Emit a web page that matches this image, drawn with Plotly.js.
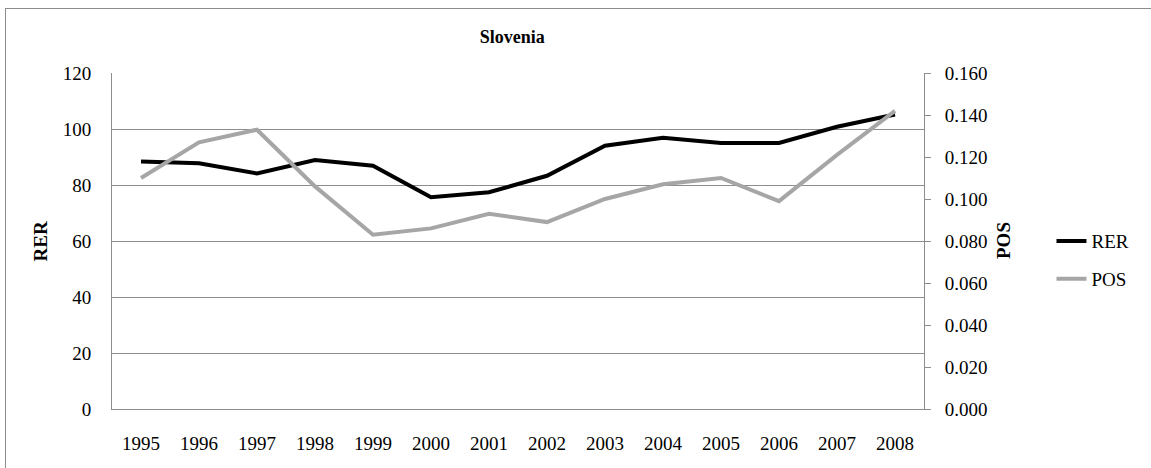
<!DOCTYPE html>
<html>
<head>
<meta charset="utf-8">
<script src="https://cdn.plot.ly/plotly-3.0.1.min.js"></script>
<style>
  html, body { margin: 0; padding: 0; background: #fff; overflow: hidden; }
  #frame { position: absolute; left: 5px; top: 8px; width: 1200px; height: 500px; border-left: 1px solid #8c8c8c; border-top: 1px solid #8c8c8c; pointer-events: none; }
  #chart { position: absolute; left: 0; top: 0; width: 1151px; height: 468px; }
</style>
</head>
<body>
<div id="chart"></div>
<div id="frame"></div>
<script>
const years = ['1995','1996','1997','1998','1999','2000','2001','2002','2003','2004','2005','2006','2007','2008'];
const rer = [88.4, 87.8, 84.1, 88.9, 86.9, 75.6, 77.4, 83.3, 94.0, 96.9, 95.0, 95.0, 100.8, 105.2];
const pos = [0.110, 0.127, 0.133, 0.106, 0.083, 0.086, 0.093, 0.089, 0.100, 0.107, 0.110, 0.099, 0.121, 0.142];
const leftTicks = [0, 20, 40, 60, 80, 100, 120];
const rightTicks = [0, 0.02, 0.04, 0.06, 0.08, 0.10, 0.12, 0.14, 0.16];

const font = 'Liberation Serif, Times New Roman, serif';
const fs = 19;

const traces = [
  {x: years, y: rer, name: 'RER', type: 'scatter', mode: 'lines', yaxis: 'y',
   line: {color: '#000000', width: 4}, legendgroup: 'a'},
  {x: years, y: pos, name: 'POS', type: 'scatter', mode: 'lines', yaxis: 'y2',
   line: {color: '#a6a6a6', width: 4}, legendgroup: 'b'}
];

const layout = {
  width: 1151, height: 468,
  margin: {l: 112, r: 227, t: 73, b: 59},
  paper_bgcolor: '#ffffff', plot_bgcolor: '#ffffff',
  font: {family: font, size: fs, color: '#000'},
  title: {text: '<b>Slovenia</b>', font: {family: font, size: 18, color: '#000'}, x: 0.445, xanchor: 'center', y: 0.922, yanchor: 'middle'},
  showlegend: true,
  legend: {x: 1.157, xanchor: 'left', y: 0.443, yanchor: 'middle', traceorder: 'grouped', tracegroupgap: 10,
           font: {family: font, size: fs}, bgcolor: 'rgba(0,0,0,0)', itemwidth: 30},
  xaxis: {type: 'category', showgrid: false, showline: true, linecolor: '#8c8c8c', linewidth: 1,
          ticks: '', ticklabelstandoff: 17, tickfont: {family: font, size: fs}, zeroline: false,
          range: [-0.5, 13.5], fixedrange: true},
  yaxis: {range: [0, 120], tickvals: leftTicks, ticktext: leftTicks.map(String),
          showgrid: true, gridcolor: '#8c8c8c', gridwidth: 1, zeroline: false,
          showline: true, linecolor: '#8c8c8c', linewidth: 1, ticks: '', ticklabelstandoff: 16,
          tickfont: {family: font, size: fs}},
  yaxis2: {overlaying: 'y', side: 'right', range: [0, 0.16], tickvals: rightTicks,
           ticktext: rightTicks.map(v => v.toFixed(3)), showgrid: false, zeroline: false,
           showline: true, linecolor: '#8c8c8c', linewidth: 1, ticks: 'outside', ticklen: 6,
           tickcolor: '#8c8c8c', ticklabelstandoff: 10, tickfont: {family: font, size: fs}},
  annotations: [
    {text: '<b>RER</b>', xref: 'paper', yref: 'paper', x: -0.0881, y: 0.5, xanchor: 'center', yanchor: 'middle',
     textangle: -90, showarrow: false, font: {family: font, size: fs}},
    {text: '<b>POS</b>', xref: 'paper', yref: 'paper', x: 1.0973, y: 0.5, xanchor: 'center', yanchor: 'middle',
     textangle: -90, showarrow: false, font: {family: font, size: fs}}
  ]
};

Plotly.newPlot('chart', traces, layout, {displayModeBar: false, staticPlot: true});
</script>
</body>
</html>
